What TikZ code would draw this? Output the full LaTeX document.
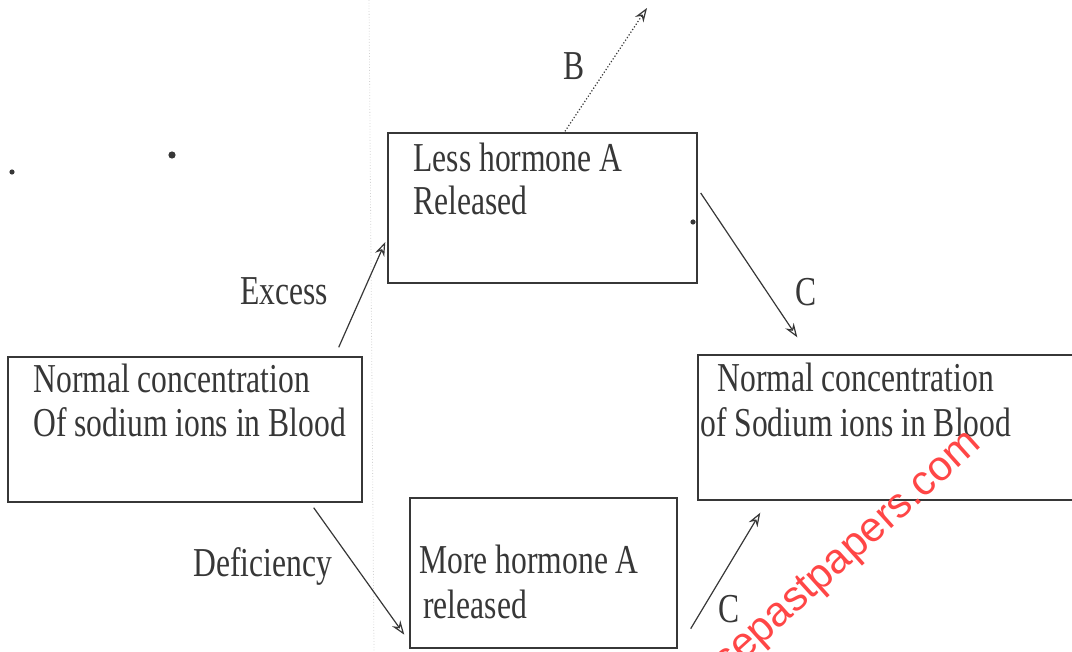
\documentclass[tikz,border=0pt]{standalone}
\usepackage{fontspec}
\setmainfont{Liberation Serif}
\newfontfamily\wmfont{Liberation Sans}
\usepackage{graphicx}
\usetikzlibrary{positioning,arrows.meta}
\definecolor{scan}{RGB}{55,55,55}
\definecolor{wmred}{RGB}{255,70,70}
\newcommand{\tallt}[1]{\scalebox{1}[1.3]{#1}}
\tikzset{
  boxn/.style={draw=scan,line width=0.7pt,rectangle,inner sep=0pt},
  txt/.style={anchor=base west,inner sep=0pt,text=scan,font=\fontsize{15.8}{19}\selectfont},
  flow/.style={draw=scan,line width=0.6pt,-{Stealth[open,length=7pt,width=5pt]}},
  dflow/.style={flow,densely dotted},
  wmark/.style={anchor=base east,rotate=42,inner sep=0pt,text=wmred,font=\wmfont\fontsize{21}{25}\selectfont}
}

\begin{document}
\begin{tikzpicture}[x=0.5pt,y=-0.5pt]
  \useasboundingbox (0,0) rectangle (1072,652);
  % scan marks
  \draw[gray!35,densely dotted] (369,0) -- (374,652);
  \fill[scan] (172,155) circle (1.8pt) (12,172) circle (1.3pt) (693,222) circle (1.3pt);
  % boxes
  \node[boxn,minimum width=177pt,minimum height=72.5pt] (normleft) at (185,429.5) {};
  \node[boxn,minimum width=154.5pt,minimum height=75pt] (lesshorm) at (542.5,208) {};
  \node[boxn,minimum width=193.5pt,minimum height=72.5pt] (normright) at (891.5,427.5) {};
  \node[boxn,minimum width=133.5pt,minimum height=75pt] (morehorm) at (543.5,573) {};
  % box texts
  \node[txt] (normleft1) at (33,393) {\tallt{Normal concentration}};
  \node[txt] (normleft2) at (33,437) {\tallt{Of sodium ions in Blood}};
  \node[txt] (lesshorm1) at (413,172) {\tallt{Less hormone A}};
  \node[txt] (lesshorm2) at (413,215) {\tallt{Released}};
  \node[txt] (normright1) at (717,392) {\tallt{Normal concentration}};
  \node[txt] (normright2) at (700,437) {\tallt{of Sodium ions in Blood}};
  \node[txt] (morehorm1) at (419,573) {\tallt{More hormone A}};
  \node[txt] (morehorm2) at (423,618) {\tallt{released}};
  % arrows
  \coordinate (btip) at (647,8);
  \draw[flow] ([shift={(-24,-9)}]normleft.north east) -- ([shift={(-2,34)}]lesshorm.west);
  \draw[dflow] ([shift={(22.5,-1)}]lesshorm.north) -- (btip);
  \draw[flow] ([shift={(3,-15)}]lesshorm.east) -- ([shift={(100,-17)}]normright.north west);
  \draw[flow] ([shift={(-49,5)}]normleft.south east) -- ([shift={(-5,-14)}]morehorm.south west);
  \draw[flow] ([shift={(13,-20)}]morehorm.south east) -- ([shift={(63,12)}]normright.south west);
  % arrow labels
  \node[txt] (excess) at (240,305) {\tallt{Excess}};
  \node[txt] (defic) at (193,576) {\tallt{Deficiency}};
  \node[txt] (labb) at (563,80) {\tallt{B}};
  \node[txt] (labc1) at (795,306) {\tallt{C}};
  \node[txt] (labc2) at (718,622) {\tallt{C}};
  % watermark
  \node[wmark] (wm) at (983,446) {kcsepastpapers.com};
\end{tikzpicture}
\end{document}
